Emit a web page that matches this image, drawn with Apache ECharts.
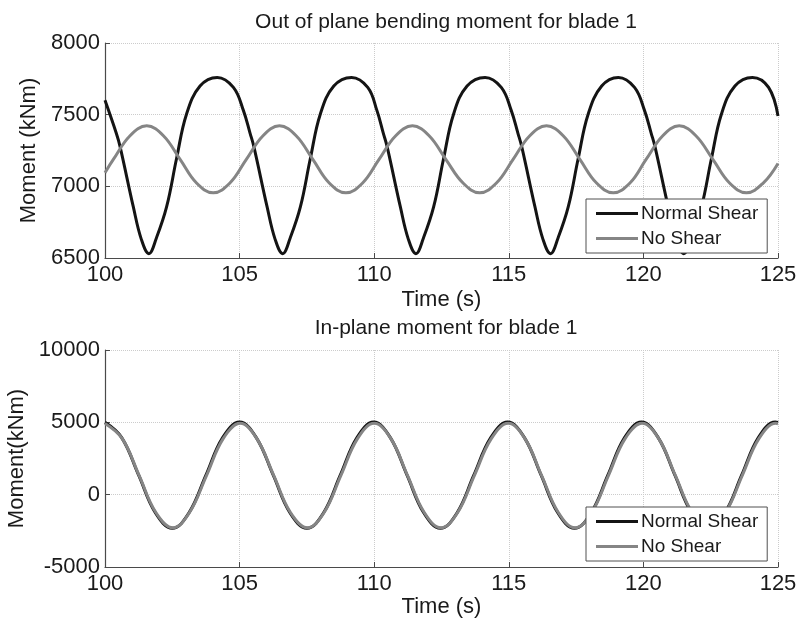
<!DOCTYPE html>
<html lang="en">
<head>
    <meta charset="UTF-8">
    <title>blade 1 moments</title>
    <script src="https://cdn.jsdelivr.net/npm/echarts@6/dist/echarts.min.js"></script>
    <style>
        html, body { margin: 0; padding: 0; background: #fff; }
    </style>
</head>
<body>
    <div id="main" style="width: 798px; height: 624px;"></div>
    <script>
        // time (s), moment (kNm) pairs
        var outNormalShear = [
            [100, 7600], [100.42, 7370], [100.56, 7277], [101.05, 6858], [101.35, 6630], [101.63, 6530],
            [101.91, 6640], [102.29, 6858], [102.66, 7196], [103.03, 7505], [103.53, 7700], [104.17, 7760],
            [104.77, 7690], [105.14, 7530], [105.39, 7370], [105.53, 7277], [106.02, 6858], [106.32, 6630],
            [106.6, 6530], [106.88, 6640], [107.26, 6858], [107.63, 7196], [108.0, 7505], [108.5, 7700],
            [109.16, 7760], [109.76, 7690], [110.1, 7530], [110.34, 7370], [110.48, 7277], [110.97, 6858],
            [111.27, 6630], [111.55, 6530], [111.83, 6640], [112.21, 6858], [112.58, 7196], [112.95, 7505],
            [113.45, 7700], [114.12, 7760], [114.72, 7690], [115.09, 7530], [115.34, 7370], [115.48, 7277],
            [115.97, 6858], [116.27, 6630], [116.55, 6530], [116.83, 6640], [117.21, 6858], [117.58, 7196],
            [117.95, 7505], [118.45, 7700], [119.07, 7760], [119.67, 7690], [120.04, 7530], [120.29, 7370],
            [120.43, 7277], [120.92, 6858], [121.22, 6630], [121.5, 6530], [121.78, 6640], [122.16, 6858],
            [122.53, 7196], [122.9, 7505], [123.4, 7700], [124.05, 7760], [124.65, 7690], [125, 7490]
        ];
        var outNoShear = [
            [100, 7095], [100.31, 7188], [100.93, 7353], [101.55, 7422], [102.17, 7353], [102.79, 7188],
            [103.4, 7023], [104.02, 6955], [104.64, 7023], [105.25, 7188], [105.87, 7353], [106.48, 7422],
            [107.1, 7353], [107.72, 7188], [108.33, 7023], [108.95, 6955], [109.57, 7023], [110.18, 7188],
            [110.8, 7353], [111.42, 7422], [112.04, 7353], [112.66, 7188], [113.3, 7023], [113.92, 6955],
            [114.54, 7023], [115.16, 7188], [115.78, 7353], [116.4, 7422], [117.02, 7353], [117.64, 7188],
            [118.26, 7023], [118.88, 6955], [119.5, 7023], [120.1, 7188], [120.72, 7353], [121.33, 7422],
            [121.95, 7353], [122.58, 7188], [123.2, 7023], [123.83, 6955], [124.45, 7023], [125, 7160]
        ];
        var inNormalShear = [
            [100, 5000], [100.62, 3944], [101.25, 1345], [101.87, -1254], [102.5, -2330], [103.12, -1254],
            [103.75, 1345], [104.37, 3944], [105.0, 5020], [105.62, 3944], [106.25, 1345], [106.87, -1254],
            [107.5, -2330], [108.12, -1254], [108.74, 1345], [109.36, 3944], [109.98, 5020], [110.6, 3944],
            [111.22, 1345], [111.84, -1254], [112.46, -2330], [113.08, -1254], [113.7, 1345], [114.33, 3944],
            [114.96, 5020], [115.58, 3944], [116.2, 1345], [116.82, -1254], [117.44, -2330], [118.06, -1254],
            [118.68, 1345], [119.3, 3944], [119.93, 5020], [120.55, 3944], [121.17, 1345], [121.79, -1254],
            [122.41, -2330], [123.03, -1254], [123.65, 1345], [124.27, 3944], [124.9, 5020], [125, 4990]
        ];
        var inNoShear = [
            [100, 4920], [100.64, 3873], [101.27, 1320], [101.89, -1233], [102.52, -2290], [103.14, -1233],
            [103.77, 1320], [104.39, 3873], [105.02, 4930], [105.64, 3873], [106.27, 1320], [106.89, -1233],
            [107.52, -2290], [108.14, -1233], [108.76, 1320], [109.38, 3873], [110.0, 4930], [110.62, 3873],
            [111.24, 1320], [111.86, -1233], [112.48, -2290], [113.1, -1233], [113.72, 1320], [114.35, 3873],
            [114.98, 4930], [115.6, 3873], [116.22, 1320], [116.84, -1233], [117.46, -2290], [118.08, -1233],
            [118.7, 1320], [119.32, 3873], [119.95, 4930], [120.57, 3873], [121.19, 1320], [121.81, -1233],
            [122.43, -2290], [123.05, -1233], [123.67, 1320], [124.29, 3873], [124.92, 4930], [125, 4900]
        ];
        var seriesNames = ['Normal Shear', 'No Shear'];
        var titles = ['Out of plane bending moment for blade 1', 'In-plane moment for blade 1'];
        var yNames = ['Moment (kNm)', 'Moment(kNm)'];

        var font = "'Liberation Sans', Arial, sans-serif";
        var black = '#141414';
        var grey = '#858585';
        var ink = '#1a1a1a';

        function plain(v) { return String(v); }

        function xAxis(idx, gap) {
            return {
                type: 'value', gridIndex: idx, min: 100, max: 125, interval: 5,
                name: 'Time (s)', nameLocation: 'middle', nameGap: gap,
                nameTextStyle: { fontFamily: font, fontSize: 22, color: ink },
                axisLine: { onZero: false, lineStyle: { color: '#4a4a4a', width: 1.2 } },
                axisTick: { inside: true, length: 5, lineStyle: { color: '#4a4a4a' } },
                axisLabel: { fontFamily: font, fontSize: 22, color: ink, margin: 6, formatter: plain },
                splitLine: { show: true, lineStyle: { color: '#cccccc', type: 'dotted', width: 1 } }
            };
        }
        function yAxis(idx, min, max, step, gap) {
            return {
                type: 'value', gridIndex: idx, min: min, max: max, interval: step,
                name: yNames[idx], nameLocation: 'middle', nameGap: gap,
                nameTextStyle: { fontFamily: font, fontSize: 22, color: ink },
                axisLine: { show: true, onZero: false, lineStyle: { color: '#4a4a4a', width: 1.2 } },
                axisTick: { show: true, inside: true, length: 5, lineStyle: { color: '#4a4a4a' } },
                axisLabel: { fontFamily: font, fontSize: 22, color: ink, margin: 5, formatter: plain },
                splitLine: { show: true, lineStyle: { color: '#cccccc', type: 'dotted', width: 1 } }
            };
        }
        function line(name, data, color, idx) {
            return {
                type: 'line', name: name, data: data, xAxisIndex: idx, yAxisIndex: idx,
                showSymbol: false, smooth: 0.4, smoothMonotone: 'none',
                lineStyle: { color: color, width: 3 }, itemStyle: { color: color }
            };
        }
        function legend(top) {
            return {
                data: seriesNames, left: 586, top: top, orient: 'vertical',
                icon: 'rect', itemWidth: 42, itemHeight: 3, itemGap: 6,
                padding: [5, 9, 5, 10], backgroundColor: '#fff',
                borderColor: '#505050', borderWidth: 1, borderRadius: 0,
                selectedMode: false,
                textStyle: { fontFamily: font, fontSize: 19, color: ink, padding: [0, 0, 0, -2] }
            };
        }

        var myChart = echarts.init(document.getElementById('main'));
        myChart.setOption({
            animation: false,
            backgroundColor: '#fff',
            title: [
                { text: titles[0], left: 441, top: 7, textAlign: 'center',
                  textStyle: { fontFamily: font, fontSize: 21, fontWeight: 'normal', color: ink } },
                { text: titles[1], left: 441, top: 313, textAlign: 'center',
                  textStyle: { fontFamily: font, fontSize: 21, fontWeight: 'normal', color: ink } }
            ],
            legend: [legend(199), legend(507)],
            grid: [
                { left: 105, right: 20, top: 43, height: 215, outerBoundsMode: 'none' },
                { left: 105, right: 20, top: 350, height: 217, outerBoundsMode: 'none' }
            ],
            xAxis: [xAxis(0, 31), xAxis(1, 25)],
            yAxis: [yAxis(0, 6500, 8000, 500, 60), yAxis(1, -5000, 10000, 5000, 72)],
            series: [
                line(seriesNames[0], outNormalShear, black, 0),
                line(seriesNames[1], outNoShear, grey, 0),
                line(seriesNames[0], inNormalShear, black, 1),
                line(seriesNames[1], inNoShear, grey, 1)
            ]
        });
    </script>
</body>
</html>
